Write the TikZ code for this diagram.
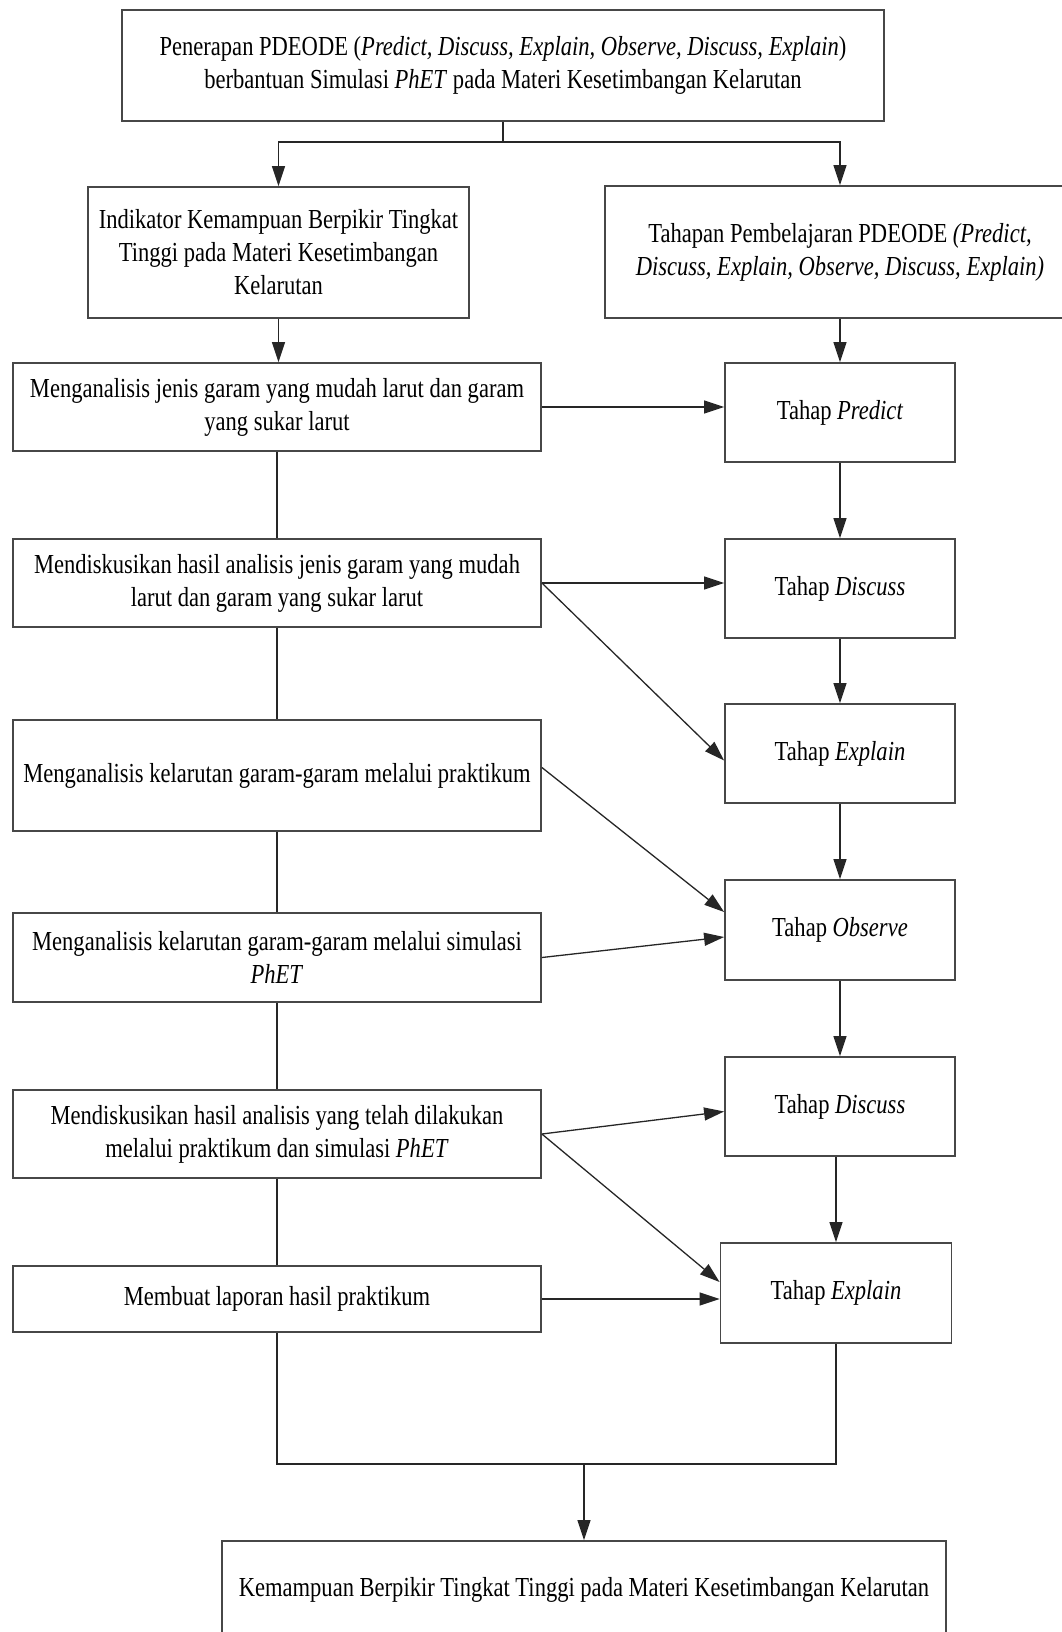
\documentclass[tikz,border=0pt]{standalone}
\usepackage{fontspec}
\setmainfont{Liberation Serif}[FakeStretch=0.82]
\usetikzlibrary{arrows.meta}

\begin{document}
\begin{tikzpicture}[x=1pt,y=-1pt,
    kotak/.style={draw=black!72, line width=1.8pt, inner sep=0pt, align=center,
      font=\fontsize{27.5}{33}\selectfont},
    panah/.style={draw=black!85, line width=1.3pt, -{Triangle[length=20pt,width=13pt]}},
    garis/.style={draw=black!85, line width=1.3pt}]
\useasboundingbox (0,0) rectangle (1061,1632);

\node[kotak, minimum width=762pt, minimum height=111pt] (top) at (503,65.5)
  {Penerapan PDEODE (\textit{Predict, Discuss, Explain, Observe, Discuss, Explain})\\
   berbantuan Simulasi \textit{PhET} pada Materi Kesetimbangan Kelarutan};
\node[kotak, minimum width=381pt, minimum height=131pt] (ind) at (278.5,252.5)
  {Indikator Kemampuan Berpikir Tingkat\\Tinggi pada Materi Kesetimbangan\\Kelarutan};
\node[kotak, minimum width=470pt, minimum height=132pt] (tah) at (840,252)
  {Tahapan Pembelajaran PDEODE \textit{(Predict,}\\
   \textit{Discuss, Explain, Observe, Discuss, Explain)}};

\node[kotak, minimum width=528pt, minimum height=88pt] (a1) at (277,407)
  {Menganalisis jenis garam yang mudah larut dan garam\\yang sukar larut};
\node[kotak, minimum width=528pt, minimum height=88pt] (a2) at (277,583)
  {Mendiskusikan hasil analisis jenis garam yang mudah\\larut dan garam yang sukar larut};
\node[kotak, minimum width=528pt, minimum height=111pt] (a3) at (277,775.5)
  {Menganalisis kelarutan garam-garam melalui praktikum};
\node[kotak, minimum width=528pt, minimum height=89pt] (a4) at (277,957.5)
  {Menganalisis kelarutan garam-garam melalui simulasi\\\textit{PhET}};
\node[kotak, minimum width=528pt, minimum height=88pt] (a5) at (277,1134)
  {Mendiskusikan hasil analisis yang telah dilakukan\\melalui praktikum dan simulasi \textit{PhET}};
\node[kotak, minimum width=528pt, minimum height=66pt] (a6) at (277,1299)
  {Membuat laporan hasil praktikum};

\node[kotak, minimum width=230pt, minimum height=99pt] (p1) at (840,412.5) {Tahap \textit{Predict}};
\node[kotak, minimum width=230pt, minimum height=99pt] (p2) at (840,588.5) {Tahap \textit{Discuss}};
\node[kotak, minimum width=230pt, minimum height=99pt] (p3) at (840,753.5) {Tahap \textit{Explain}};
\node[kotak, minimum width=230pt, minimum height=100pt] (p4) at (840,930) {Tahap \textit{Observe}};
\node[kotak, minimum width=230pt, minimum height=99pt] (p5) at (840,1106.5) {Tahap \textit{Discuss}};
\node[kotak, minimum width=231pt, minimum height=100pt] (p6) at (836,1293) {Tahap \textit{Explain}};

\node[kotak, minimum width=724pt, minimum height=98pt] (fin) at (584,1590)
  {Kemampuan Berpikir Tingkat Tinggi pada Materi Kesetimbangan Kelarutan};

\coordinate (split) at (503,142);
\coordinate (mrg) at (584,1464);

\draw[garis] (top.south) -- (split);
\draw[panah] (split) -| (ind.north);
\draw[panah] (split) -| (tah.north);
\draw[panah] (ind.south) -- (ind.south |- a1.north);
\draw[panah] (tah.south) -- (p1.north);

\draw[garis] (a1.south) -- (a2.north);
\draw[garis] (a2.south) -- (a3.north);
\draw[garis] (a3.south) -- (a4.north);
\draw[garis] (a4.south) -- (a5.north);
\draw[garis] (a5.south) -- (a6.north);

\draw[panah] (p1.south) -- (p2.north);
\draw[panah] (p2.south) -- (p3.north);
\draw[panah] (p3.south) -- (p4.north);
\draw[panah] (p4.south) -- (p5.north);
\draw[panah] (p6.north |- p5.south) -- (p6.north);

\draw[panah] (a1.east) -- (a1.east -| p1.west);
\draw[panah] (a2.east) -- (a2.east -| p2.west);
\draw[panah] (a2.east) -- ([yshift=-7pt]p3.west);
\draw[panah] ([yshift=8pt]a3.east) -- ([yshift=18pt]p4.west);
\draw[panah] (a4.east) -- ([yshift=-7pt]p4.west);
\draw[panah] (a5.east) -- ([yshift=-5pt]p5.west);
\draw[panah] (a5.east) -- ([yshift=11pt]p6.west);
\draw[panah] (a6.east) -- (a6.east -| p6.west);

\draw[garis] (a6.south) |- (mrg) -| (p6.south);
\draw[panah] (mrg) -- (fin.north);
\end{tikzpicture}
\end{document}
